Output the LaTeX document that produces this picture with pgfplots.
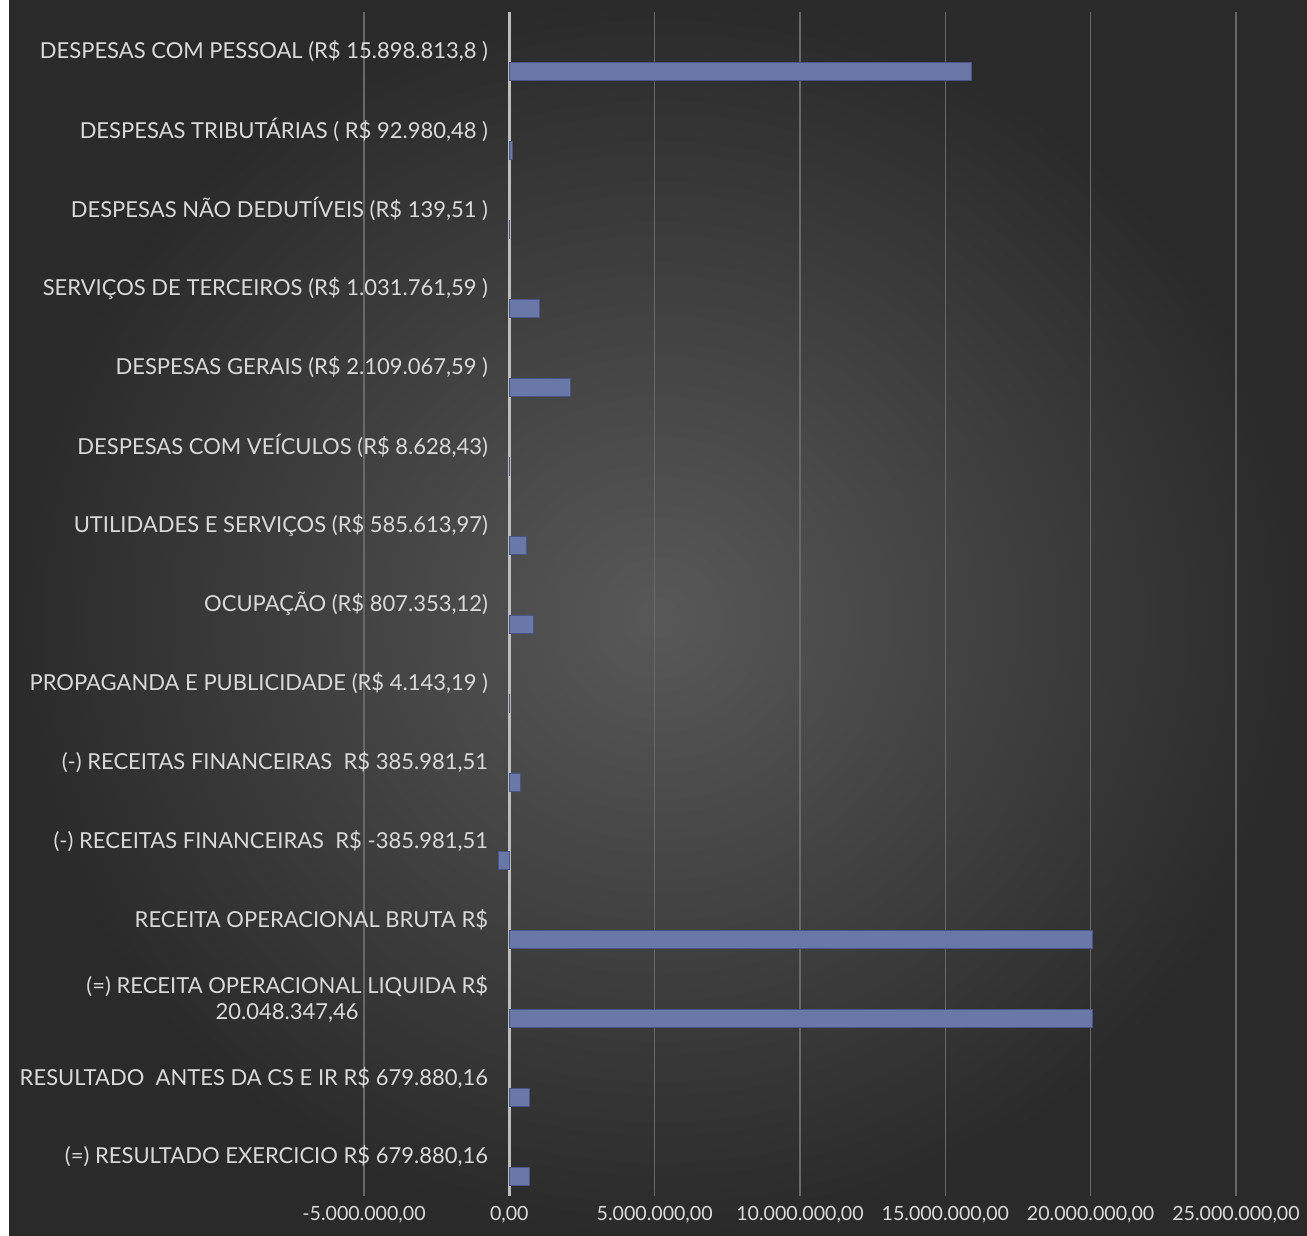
\documentclass[border=0pt]{standalone}
\usepackage{pgfplots}
\pgfplotsset{compat=1.18}
\usepackage{fontspec}
\setmainfont{Lato}
\definecolor{bgin}{HTML}{585858}
\definecolor{bgout}{HTML}{2A2A2A}
\definecolor{grid}{HTML}{686868}
\definecolor{zero}{HTML}{BDBDBD}
\definecolor{bar}{HTML}{6A77A9}
\definecolor{bard}{HTML}{4A5485}
\definecolor{txt}{HTML}{D9D9D9}
\begin{document}
\begin{tikzpicture}
\fill[white] (0,0) rectangle (653.5pt,618pt);
\shade[inner color=bgin, outer color=bgout] (4.5pt,0) rectangle (653.5pt,618pt);
\begin{axis}[
  at={(182pt,20pt)}, anchor=south west,
  scale only axis, width=436pt, height=592pt,
  xmin=-5000000, xmax=25000000, ymin=-0.5, ymax=14.5,
  xtick={-5000000,0,5000000,10000000,15000000,20000000,25000000},
  xticklabels={{-5.000.000,00},{0,00},{5.000.000,00},{10.000.000,00},{15.000.000,00},{20.000.000,00},{25.000.000,00}},
  ytick={0,1,2,3,4,5,6,7,8,9,10,11,12,13,14},
  yticklabels={
    {(=) RESULTADO EXERCICIO R\$ 679.880,16},
    {RESULTADO\ \ ANTES DA CS E IR R\$ 679.880,16},
    {(=) RECEITA OPERACIONAL LIQUIDA R\$\\20.048.347,46},
    {RECEITA OPERACIONAL BRUTA R\$},
    {(-) RECEITAS FINANCEIRAS\ \ R\$ -385.981,51},
    {(-) RECEITAS FINANCEIRAS\ \ R\$ 385.981,51},
    {PROPAGANDA E PUBLICIDADE (R\$ 4.143,19 )},
    {OCUPAÇÃO (R\$ 807.353,12)},
    {UTILIDADES E SERVIÇOS (R\$ 585.613,97)},
    {DESPESAS COM VEÍCULOS (R\$ 8.628,43)},
    {DESPESAS GERAIS (R\$ 2.109.067,59 )},
    {SERVIÇOS DE TERCEIROS (R\$ 1.031.761,59 )},
    {DESPESAS NÃO DEDUTÍVEIS (R\$ 139,51 )},
    {DESPESAS TRIBUTÁRIAS ( R\$ 92.980,48 )},
    {DESPESAS COM PESSOAL (R\$ 15.898.813,8 )}},
  major tick length=0pt,
  axis line style={draw=none},
  xmajorgrids, major grid style={color=grid, line width=0.6pt},
  xticklabel style={font=\fontsize{9.8}{11}\selectfont, text=txt, inner sep=1pt, yshift=-4pt},
  yticklabel style={font=\fontsize{11}{13}\selectfont, text=txt, align=center, xshift=65.5pt},
  clip=false,
]
\draw[zero, line width=1.3pt] (axis cs:0,-0.5) -- (axis cs:0,14.5);
\addplot[xbar, bar width=9pt, bar shift=-10pt, fill=bar, draw=bard, line width=0.3pt] coordinates {
  (679880.16,0)
  (679880.16,1)
  (20048347.46,2)
  (20048347.46,3)
  (-385981.51,4)
  (385981.51,5)
  (4143.19,6)
  (807353.12,7)
  (585613.97,8)
  (8628.43,9)
  (2109067.59,10)
  (1031761.59,11)
  (139.51,12)
  (92980.48,13)
  (15898813.8,14)
};
\end{axis}
\pgfresetboundingbox
\path (0,0) rectangle (653.5pt,618pt);
\end{tikzpicture}
\end{document}
